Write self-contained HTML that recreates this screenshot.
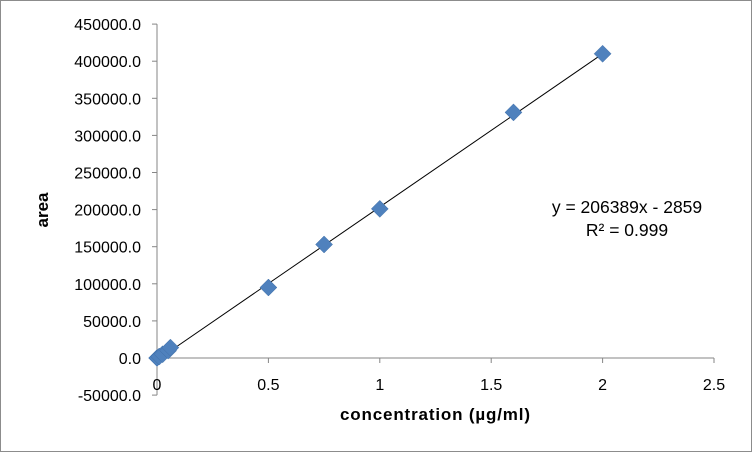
<!DOCTYPE html>
<html><head><meta charset="utf-8"><style>
body{margin:0;background:#fff}
svg{display:block;font-family:"Liberation Sans",sans-serif}
</style></head><body>
<svg id="c" width="752" height="452">
<rect x="0.5" y="0.5" width="751" height="451" fill="#fff" stroke="#8c8c8c"/>
</svg>
<script>
const xs=[0,0.01,0.025,0.05,0.06,0.5,0.75,1,1.6,2];
const ys=[0,2000,5000,10000,14000,95000,153000,201000,331000,410000];
const yTicks=[-50000,0,50000,100000,150000,200000,250000,300000,350000,400000,450000];
const xTicks=[0,0.5,1,1.5,2,2.5];
const slope=206389, intercept=-2859;
const svg=document.getElementById('c');const NS='http://www.w3.org/2000/svg';
function X(v){return 157+v*222.8}
function Y(v){return 358-v*(37.1/50000)}
function el(t,a,txt){const e=document.createElementNS(NS,t);for(const k in a)e.setAttribute(k,a[k]);if(txt!==undefined)e.textContent=txt;svg.appendChild(e);return e}
let a=el('line',{x1:X(0),y1:Y(450000),x2:X(0),y2:Y(-50000),stroke:'#868686'});

a=el('line',{x1:X(0),y1:Y(0),x2:X(2.5),y2:Y(0),stroke:'#868686'});

yTicks.forEach(v=>{let t=el('line',{x1:X(0)-5,x2:X(0),y1:Y(v),y2:Y(v),stroke:'#868686'});

let l=el('text',{x:X(0)-16,y:Y(v)+6,'text-anchor':'end','font-size':'16',fill:'#000'},v.toFixed(1));
});
xTicks.forEach(v=>{let t=el('line',{x1:X(v),x2:X(v),y1:Y(0),y2:Y(0)+5,stroke:'#868686'});

let l=el('text',{x:X(v),y:Y(0)+32,'text-anchor':'middle','font-size':'16',fill:'#000'},String(v));
});
let tl=el('line',{x1:X(0),y1:Y(intercept),x2:X(2),y2:Y(slope*2+intercept),stroke:'#000','stroke-width':'1'});

xs.forEach((v,i)=>{const cx=X(v),cy=Y(ys[i]);
let p=el('polygon',{points:`${cx},${cy-8.5} ${cx+8.5},${cy} ${cx},${cy+8.5} ${cx-8.5},${cy}`,fill:'#4f81bd',stroke:'#3f6fa8','stroke-width':'0.5'});
});
let t=el('text',{x:627,y:213,'text-anchor':'middle','font-size':'17.5'},'y = 206389x - 2859');

t=el('text',{x:627,y:236,'text-anchor':'middle','font-size':'17.5'},'R² = 0.999');

t=el('text',{x:435,y:420,'text-anchor':'middle','font-size':'17','font-weight':'bold',textLength:'190'},'concentration (µg/ml)');

t=el('text',{x:0,y:0,'text-anchor':'middle','font-size':'17','font-weight':'bold',transform:'translate(48,210) rotate(-90)'},'area');

</script>
</body></html>
